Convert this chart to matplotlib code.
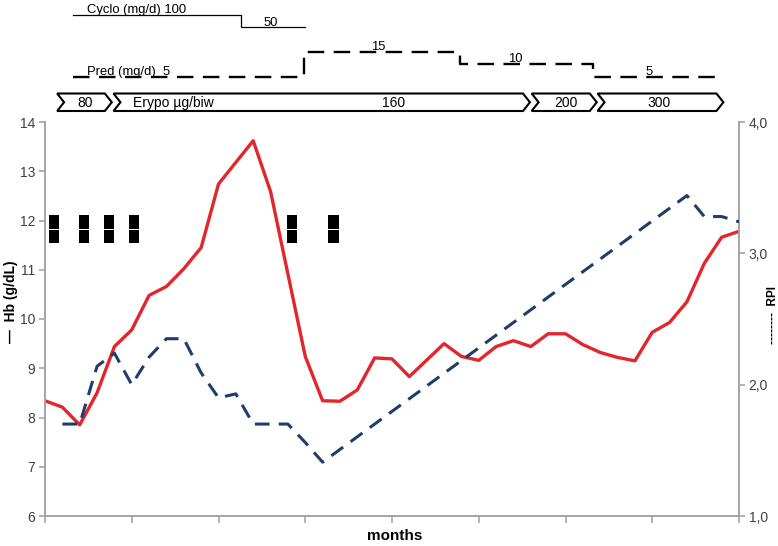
import matplotlib
matplotlib.use("Agg")
import matplotlib.pyplot as plt
from matplotlib.patches import Polygon
from matplotlib.ticker import FixedLocator

plt.rcParams['font.family'] = ['Liberation Sans', 'DejaVu Sans']

# ---------------- data ----------------
hb_x = [0, 1, 2, 3, 4, 5, 6, 7, 8, 9, 10, 12, 13, 15, 16, 17, 18, 19, 20, 21,
        23, 24, 25, 26, 27, 28, 29, 30, 31, 32, 33, 34, 35, 36, 37, 38, 39, 40]
hb = [8.34, 8.21, 7.85, 8.50, 9.44, 9.78, 10.48, 10.66, 11.02, 11.45, 12.74,
      13.62, 12.59, 9.24, 8.34, 8.33, 8.56, 9.21, 9.19, 8.83,
      9.50, 9.24, 9.16, 9.44, 9.56, 9.44, 9.70, 9.70, 9.48, 9.32, 9.22, 9.15,
      9.73, 9.93, 10.35, 11.13, 11.66, 11.78]

rpi_x = [1, 2, 3, 4, 5, 6, 7, 8, 9, 10, 11, 12, 13, 14, 15, 16, 37, 38, 39, 40]
rpi = [1.70, 1.70, 2.14, 2.24, 2.00, 2.21, 2.35, 2.35, 2.09, 1.90, 1.93,
       1.70, 1.70, 1.70, 1.56, 1.41, 3.44, 3.28, 3.28, 3.24]

transfusion_x = [0.53, 2.26, 3.68, 5.13, 14.22, 16.63]

cyclo_change = [1.6, 11.3, 15.0]
cyclo_dose = [100, 50]

pred_change = [1.6, 14.9, 23.9, 31.6, 39.1]
pred_dose = [5, 15, 10, 5]

erypo_start = [0.7, 3.95, 28.05, 31.85]
erypo_end = [3.85, 27.95, 31.8, 39.1]
erypo_dose = ['80', '160', '200', '300']
erypo_label_x = [2.3, 20.1, 30.0, 35.4]

hb_ticks = [6, 7, 8, 9, 10, 11, 12, 13, 14]
rpi_ticks = [1.0, 2.0, 3.0, 4.0]
rpi_ticklabels = ['1,0', '2,0', '3,0', '4,0']
x_ticks = [0, 5, 10, 15, 20, 25, 30, 35, 40]

# ---------------- figure ----------------
W, H = 778, 546
fig = plt.figure(figsize=(W / 100, H / 100), dpi=100)
fig.patch.set_facecolor('white')

L, R, T, B = 45, 739, 122, 516
ax = fig.add_axes([L / W, (H - B) / H, (R - L) / W, (B - T) / H])
ax2 = ax.twinx()

grey = '#A6A6A6'
tcol = '#404040'

ax.set_xlim(0, 40)
ax.set_ylim(6, 14)
ax2.set_ylim(1, 4)

for a in (ax, ax2):
    a.spines['top'].set_visible(False)
    for s in ('left', 'right', 'bottom'):
        a.spines[s].set_color(grey)
        a.spines[s].set_linewidth(1.3)

ax.xaxis.set_major_locator(FixedLocator(x_ticks))
ax.set_xticklabels([])
ax.tick_params(axis='x', direction='out', length=5, color=grey, width=1.2)
ax.set_yticks(hb_ticks)
ax.set_yticklabels([str(v) for v in hb_ticks])
ax.tick_params(axis='y', direction='out', length=4, color=grey, width=1.2,
               labelsize=10, labelcolor=tcol, pad=3)
ax2.set_yticks(rpi_ticks)
ax2.set_yticklabels(rpi_ticklabels)
ax2.tick_params(axis='y', direction='out', length=4, color=grey, width=1.2,
                labelsize=10, labelcolor=tcol, pad=3)

# transfusion markers (double black blocks)
ax.bar(transfusion_x, [0.28] * len(transfusion_x), bottom=11.83, width=0.58,
       color='black', zorder=3)
ax.bar(transfusion_x, [0.27] * len(transfusion_x), bottom=11.54, width=0.58,
       color='black', zorder=3)

# lines
ax.plot(hb_x, hb, color='#E3262B', lw=2.4, zorder=4, solid_joinstyle='round')
ax2.plot(rpi_x, rpi, color='#1F3D6B', lw=2.2, linestyle=(0, (4.8, 3.0)), zorder=5)

ax.set_ylabel('—  Hb (g/dL)', fontsize=10, fontweight='bold', color='black',
              va='center')
ax.yaxis.set_label_coords(-0.049, 0.543)
ax2.set_ylabel('--------  RPI', fontsize=8.5, fontweight='bold', color='black',
               rotation=90, va='center')
ax2.yaxis.set_label_coords(1.049, 0.51)
ax.set_xlabel('months', fontsize=11, fontweight='bold', color='black',
              va='center')
ax.xaxis.set_label_coords(0.504, -0.051)

# ---------------- top annotation panel ----------------
TOP_H = 116
axa = fig.add_axes([L / W, (H - TOP_H) / H, (R - L) / W, TOP_H / H])
axa.set_xlim(0, 40)
axa.set_ylim(TOP_H, 0)
axa.axis('off')

# cyclosporine (solid thin step line)
cy_y = {100: 15, 50: 27}
xs, ys = [], []
for i, d in enumerate(cyclo_dose):
    xs += [cyclo_change[i], cyclo_change[i + 1]]
    ys += [cy_y[d], cy_y[d]]
axa.plot(xs, ys, color='black', lw=0.9, clip_on=False)
axa.text(2.42, cy_y[100] - 1.5, 'Cyclo (mg/d) 100', fontsize=9.4,
         ha='left', va='baseline')
axa.text(13.0, cy_y[50] - 1.5, '50', fontsize=9.4, ha='center', va='baseline')

# prednisolone (dashed step line)
def pred_y(d):
    return 89 - 2.5 * d

xs, ys = [], []
for i, d in enumerate(pred_dose):
    xs += [pred_change[i], pred_change[i + 1]]
    ys += [pred_y(d), pred_y(d)]
axa.plot(xs, ys, color='black', lw=1.7, linestyle=(0, (7, 4)), clip_on=False)
axa.text(2.42, pred_y(5) - 1.5, 'Pred (mg/d)  5', fontsize=9.4,
         ha='left', va='baseline')
axa.text(19.2, pred_y(15) - 1.5, '15', fontsize=9.4, ha='center', va='baseline')
axa.text(27.1, pred_y(10) - 1.5, '10', fontsize=9.4, ha='center', va='baseline')
axa.text(34.8, pred_y(5) - 1.5, '5', fontsize=9.4, ha='center', va='baseline')

# erythropoietin chevrons
top, bot = 93.5, 111
mid = (top + bot) / 2
d = 0.4
for x0, x1 in zip(erypo_start, erypo_end):
    pts = [(x0, top), (x1 - d, top), (x1, mid), (x1 - d, bot), (x0, bot),
           (x0 + d, mid)]
    axa.add_patch(Polygon(pts, closed=True, facecolor='white',
                          edgecolor='black', lw=1.5, clip_on=False))
for lx, lab in zip(erypo_label_x, erypo_dose):
    axa.text(lx, mid + 0.5, lab, fontsize=10, ha='center', va='center')
axa.text(5.1, mid + 0.5, 'Erypo µg/biw', fontsize=10, ha='left', va='center')

fig.savefig('out.png', dpi=100, facecolor='white')
